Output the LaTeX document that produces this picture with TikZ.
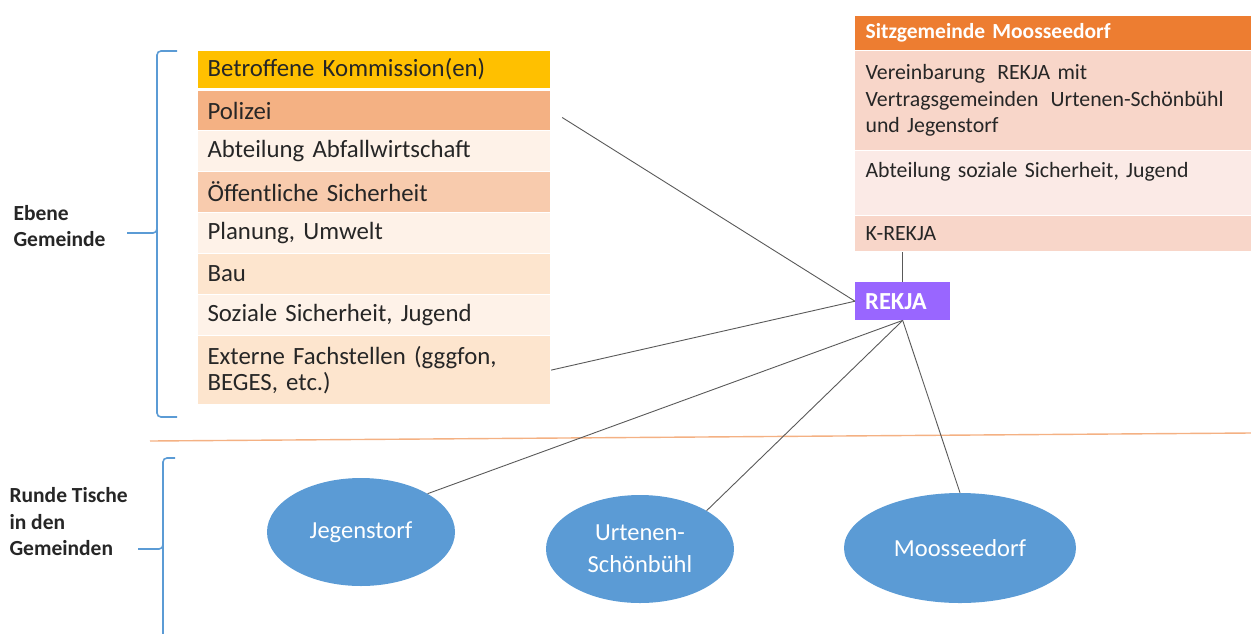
\documentclass[tikz,border=0pt]{standalone}
\usepackage{fontspec}
\setmainfont{Carlito}
\usetikzlibrary{shapes.geometric}
\definecolor{cGold}{HTML}{FFC000}
\definecolor{cPol}{HTML}{F4B183}
\definecolor{cLight}{HTML}{FEF2E8}
\definecolor{cOeff}{HTML}{F8CBAD}
\definecolor{cBau}{HTML}{FDE5CE}
\definecolor{cHead}{HTML}{ED7D31}
\definecolor{cRose}{HTML}{F8D6C9}
\definecolor{cRoseL}{HTML}{FBEAE6}
\definecolor{cPurple}{HTML}{9966FF}
\definecolor{cBlue}{HTML}{5B9BD5}
\definecolor{cTxt}{HTML}{262626}
\begin{document}
\begin{tikzpicture}[x=1pt,y=-1pt,
  lrow/.style={rectangle, anchor=north west, draw=white, line width=1.2pt,
    minimum width=353, text width=333, inner xsep=10, inner ysep=0,
    align=left, text=cTxt, font=\fontsize{24.8}{26.5}\selectfont},
  rrow/.style={rectangle, anchor=north west, draw=white, line width=1.2pt,
    minimum width=397, text width=377, inner xsep=11, inner ysep=0,
    align=left, text=cTxt, font=\fontsize{21.8}{26.5}\selectfont},
  ell/.style={ellipse, fill=cBlue, inner sep=0, text=white, align=center,
    font=\fontsize{24.5}{32}\selectfont},
  conn/.style={draw=black!65, line width=0.9pt},
  brace/.style={draw=cBlue, line width=1.6pt, rounded corners=4pt},
  side/.style={anchor=west, align=left, text=cTxt, font=\bfseries\fontsize{21.5}{26.5}\selectfont}
]
\useasboundingbox (0,0) rectangle (1251,633);

% left table
\node[lrow, fill=cGold, minimum height=38] (kom) at (197,50) {Betroffene Kommission(en)};
\node[lrow, fill=cPol, minimum height=40] (pol) at (197,90) {Polizei};
\node[lrow, fill=cLight, minimum height=41] (abf) at (197,130) {Abteilung Abfallwirtschaft};
\node[lrow, fill=cOeff, minimum height=41] (oef) at (197,171) {Öffentliche Sicherheit};
\node[lrow, fill=cLight, minimum height=41] (pla) at (197,212) {Planung, Umwelt};
\node[lrow, fill=cBau, minimum height=41] (bau) at (197,253) {Bau};
\node[lrow, fill=cLight, minimum height=41] (soz) at (197,294) {Soziale Sicherheit, Jugend};
\node[lrow, fill=cBau, minimum height=69] (ext) at (197,335) {Externe Fachstellen (gggfon,\\BEGES, etc.)};

% right table
\node[rrow, fill=cHead, minimum height=35, text=white, font=\bfseries\fontsize{21.5}{24}\selectfont] (sitz) at (854,15) {Sitzgemeinde Moosseedorf};
\node[rrow, fill=cRose, minimum height=100] (ver) at (854,50) {Vereinbarung\hspace{5pt} REKJA mit\\Vertragsgemeinden\hspace{5pt} Urtenen-Schönbühl\\und Jegenstorf};
\node[rrow, fill=cRoseL, minimum height=65] (asz) at (854,150) {Abteilung soziale Sicherheit, Jugend\\\mbox{}};
\node[rrow, fill=cRose, minimum height=36] (krekja) at (854,215) {K-REKJA};

% REKJA
\node[rectangle, anchor=north west, fill=cPurple, minimum width=95, minimum height=38,
  text width=75, inner xsep=10, inner ysep=0, align=left, text=white,
  font=\bfseries\fontsize{24.5}{26}\selectfont] (rekja) at (855,282) {REKJA};

% ellipses
\node[ell, minimum width=188, minimum height=108] (jeg) at (361,532) {Jegenstorf};
\node[ell, minimum width=188, minimum height=108] (urt) at (640,549) {Urtenen-\\Schönbühl};
\node[ell, minimum width=232, minimum height=110] (moo) at (960,548) {Moosseedorf};

% separator
\coordinate (sepL) at (150,441);
\coordinate (sepR) at (1251,433);
\draw[draw=cPol, line width=1.4pt] (sepL) -- (sepR);

% connectors
\draw[conn, shorten <=13pt] (pol.east) -- (rekja.west);
\draw[conn] (ext.east) -- (rekja.west);
\draw[conn] (rekja.north |- krekja.south) -- (rekja.north);
\draw[conn] (rekja.south) -- (jeg.north east);
\draw[conn] (rekja.south) -- (urt.north east);
\draw[conn] (rekja.south) -- (moo.north);

% braces
\draw[brace] (177,51) -- (157,51) -- (157,233) -- (127,233);
\draw[brace] (157,225) -- (157,417) -- (177,417);
\draw[brace] (175,458) -- (163,458) -- (163,549) -- (138,549);
\draw[brace] (163,540) -- (163,640);

% side labels
\node[side] (ebene) at (10,226) {Ebene\\Gemeinde};
\node[side] (runde) at (6,522) {Runde Tische\\in den\\Gemeinden};
\end{tikzpicture}
\end{document}
